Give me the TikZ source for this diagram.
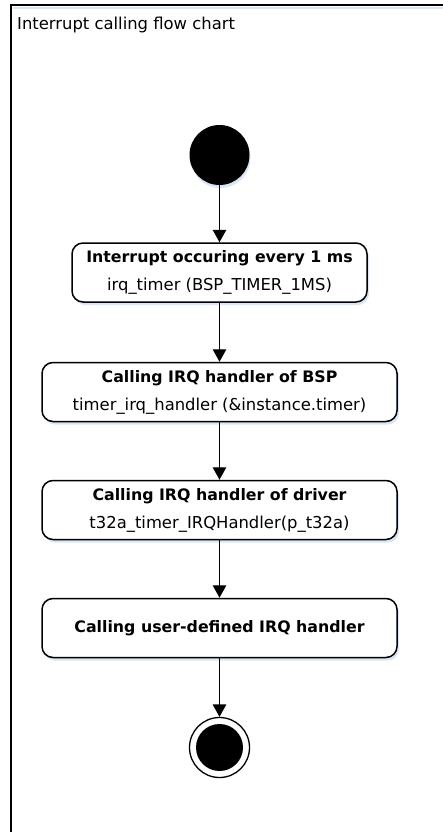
\documentclass[tikz,border=0pt]{standalone}
\usepackage{fontspec}
\setmainfont{DejaVu Sans}
\usetikzlibrary{arrows.meta,shadows}
\definecolor{shadowblue}{RGB}{218,230,245}

\begin{document}
\begin{tikzpicture}[x=1pt,y=-1pt,
    action/.style={draw, line width=1.5pt, rounded corners=11pt, fill=white,
      minimum height=59pt, align=center, inner sep=0pt,
      font=\fontsize{16.4}{28}\selectfont,
      drop shadow={shadow xshift=2pt, shadow yshift=-3pt, fill=shadowblue, opacity=1}},
    flow/.style={line width=1.4pt, -{Triangle[length=12.5pt,width=13.5pt]}}]
    \useasboundingbox (0,0) rectangle (443,832);
    % frame of the chart
    \draw [shadowblue, line width=2pt] (13,8.5) -- (450,8.5);
    \draw [line width=2pt] (11,840) -- (11,5) -- (450,5);
    \node [anchor=base west, inner sep=0pt, font=\fontsize{16.4}{20}\selectfont] (title) at (17,30) {Interrupt calling flow chart};
    % initial and final states
    \node [circle, fill=black, minimum size=60pt, inner sep=0pt,
      drop shadow={shadow xshift=1pt, shadow yshift=-3pt, fill=shadowblue, opacity=1}] (start) at (219.5,155) {};
    \node [circle, fill=black, minimum size=47pt, inner sep=0pt] (stopin) at (219.5,747.5) {};
    \node [circle, draw, line width=1.3pt, minimum size=60pt, inner sep=0pt] (stop) at (219.5,747.5) {};
    % actions
    \node [action, minimum width=295pt] (irq) at (219.5,272.5) {\textbf{\fontsize{15.8}{28}\selectfont Interrupt occuring every 1 ms}\\ irq\_timer (BSP\_TIMER\_1MS)};
    \node [action, minimum width=355pt] (bsp) at (219.5,392) {\textbf{\fontsize{15.8}{28}\selectfont Calling IRQ handler of BSP}\\ timer\_irq\_handler (\&instance.timer)};
    \node [action, minimum width=355pt] (drv) at (219.5,510) {\textbf{\fontsize{15.8}{28}\selectfont Calling IRQ handler of driver}\\ t32a\_timer\_IRQHandler(p\_t32a)};
    \node [action, minimum width=355pt] (user) at (219.5,628) {\textbf{\fontsize{15.8}{28}\selectfont Calling user-defined IRQ handler}};
    \draw [flow] (start) -- (irq);
    \draw [flow] (irq) -- (bsp);
    \draw [flow] (bsp) -- (drv);
    \draw [flow] (drv) -- (user);
    \draw [flow] (user) -- (stop);
\end{tikzpicture}
\end{document}
